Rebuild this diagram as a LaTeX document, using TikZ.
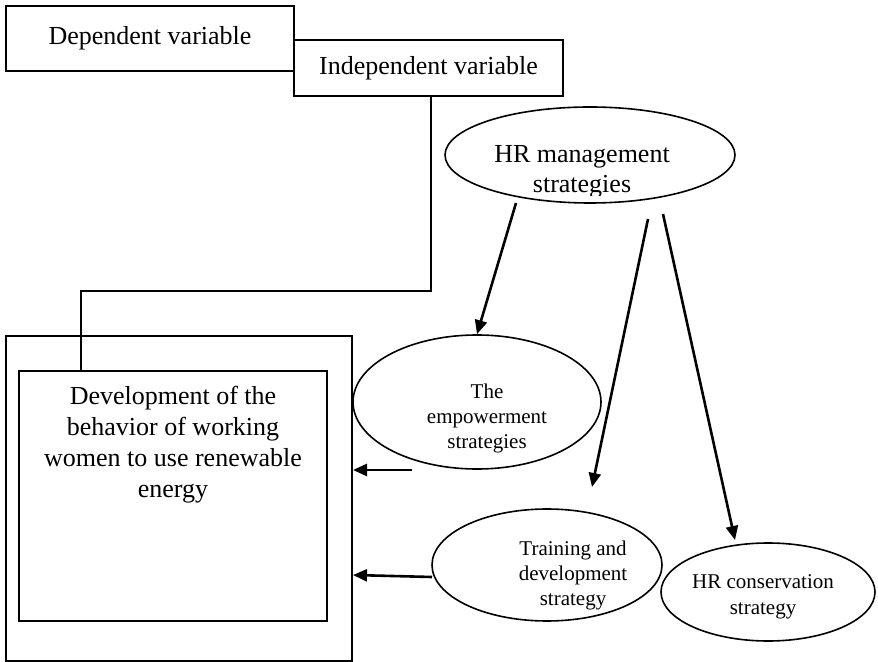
\documentclass[tikz,border=0pt]{standalone}
\usepackage{fontspec}
\setmainfont{Liberation Serif}
\usepackage{tikz}
\usetikzlibrary{arrows.meta,shapes.geometric}

\begin{document}
\begin{tikzpicture} [x=0.5pt, y=-0.5pt,
box/.style={draw, line width=1pt, inner sep=0pt},
oval/.style={ellipse, draw, line width=0.8pt, inner sep=0pt},
big/.style={font=\fontsize{13}{15.5}\selectfont, align=center, inner sep=0pt},
small/.style={font=\fontsize{10.5}{12.5}\selectfont, align=center, inner sep=0pt},
wire/.style={line width=1pt},
link/.style={line width=1.3pt, -{Triangle[length=7pt,width=6pt]}}]
\useasboundingbox (0,0) rectangle (878,662);
\node [box, big, minimum width=144pt, minimum height=32.5pt] (dep) at (150,38.5) {Dependent variable};
\node [box, big, minimum width=134.5pt, minimum height=28pt] (indep) at (428.5,68) {Independent variable};
\node [box, minimum width=173pt, minimum height=162.5pt] (outer) at (179,498.5) {};
\node [box, minimum width=154pt, minimum height=125pt] (inner) at (173,496) {};
\node [big] (innertext) at (173,445) {Development of the\\behavior of working\\women to use renewable\\energy};
\node [oval, minimum width=145pt, minimum height=48pt] (hrm) at (590,155) {};
\begin{scope}
    \clip (445,100) rectangle (734,196);
    \node [big, font=\fontsize{13}{15}\selectfont] (hrmtext) at (582,172) {HR management\\strategies};
\end{scope}
\node [oval, minimum width=124pt, minimum height=67pt] (emp) at (477,402) {};
\node [small] (emptext) at (487,418) {The\\empowerment\\strategies};
\node [oval, minimum width=115pt, minimum height=56pt] (train) at (547,565) {};
\node [small] (traintext) at (573,575) {Training and\\development\\strategy};
\node [oval, minimum width=107pt, minimum height=49pt] (cons) at (768,592) {};
\node [small, font=\fontsize{10.5}{13}\selectfont] (constext) at (763,597) {HR conservation\\strategy};
\coordinate (bendright) at (431,291);
\coordinate (bendleft) at (81,291);
\draw [wire] (bendright |- indep.south) -- (bendright) -- (bendleft) -- (bendleft |- inner.north);
\coordinate (hrmA) at (516,203);
\coordinate (hrmB) at (648,219);
\coordinate (hrmC) at (663,214);
\coordinate (traintip) at (592,487);
\coordinate (constip) at (735,540);
\coordinate (empfoot) at (412,470);
\coordinate (trainfoot) at (432,577);
\draw [link] (hrmA) -- (emp.north);
\draw [link] (hrmB) -- (traintip);
\draw [link] (hrmC) -- (constip);
\draw [link] (empfoot) -- (outer.east |- empfoot);
\draw [link] (trainfoot) -- (outer.east |- 0,575);
\end{tikzpicture}
\end{document}
